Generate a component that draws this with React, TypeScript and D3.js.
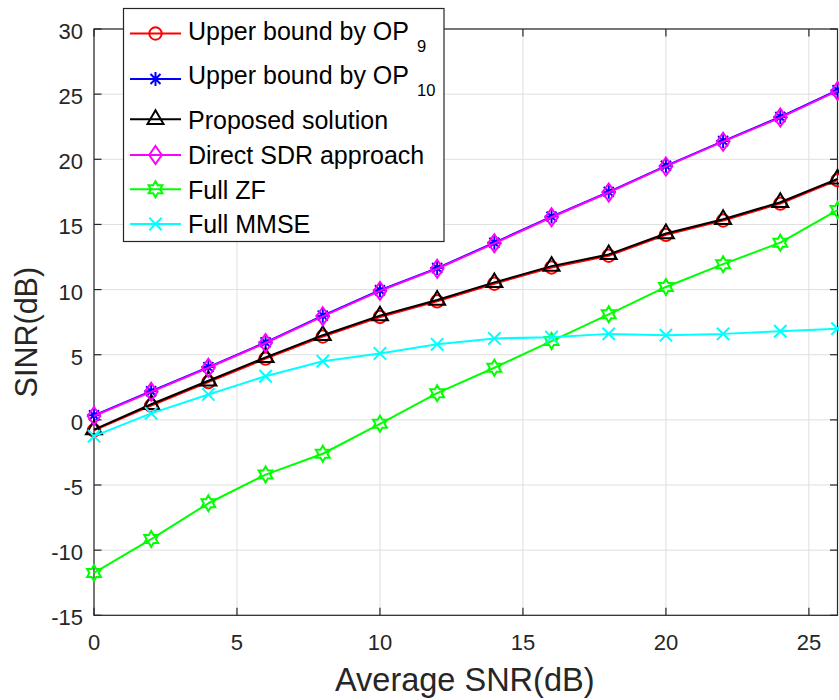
import React from 'react';
import * as d3 from 'd3';

// Average SNR (dB) sample points
const snrDb = [0, 2, 4, 6, 8, 10, 12, 14, 16, 18, 20, 22, 24, 26];

// SINR (dB) per method
const upperOp9 = [-0.8, 1.1, 2.9, 4.7, 6.4, 7.9, 9.1, 10.45, 11.7, 12.6, 14.2, 15.3, 16.6, 18.4];
const upperOp10 = [0.35, 2.2, 4.05, 5.95, 8.0, 9.95, 11.65, 13.6, 15.6, 17.5, 19.5, 21.4, 23.25, 25.3];
const proposed = [-0.75, 1.2, 3.0, 4.8, 6.5, 8.0, 9.2, 10.55, 11.8, 12.7, 14.3, 15.4, 16.7, 18.5];
const directSdr = [0.3, 2.15, 4.0, 5.9, 7.95, 9.9, 11.6, 13.55, 15.55, 17.45, 19.45, 21.35, 23.2, 25.25];
const fullZf = [-11.75, -9.15, -6.4, -4.2, -2.6, -0.3, 2.05, 4.0, 6.05, 8.1, 10.2, 11.95, 13.6, 16.1];
const fullMmse = [-1.25, 0.5, 1.95, 3.35, 4.5, 5.1, 5.8, 6.25, 6.35, 6.6, 6.5, 6.6, 6.8, 7.0];

const xTicks = [0, 5, 10, 15, 20, 25];
const yTicks = [-15, -10, -5, 0, 5, 10, 15, 20, 25, 30];

const legendNames = [
  'Upper bound by OP',
  'Upper bound by OP',
  'Proposed solution',
  'Direct SDR approach',
  'Full ZF',
  'Full MMSE',
];
const legendSubscripts = ['9', '10', '', '', '', ''];

type MarkerKind = 'circle' | 'asterisk' | 'triangle' | 'diamond' | 'hexagram' | 'cross';

const seriesList: { values: number[]; color: string; marker: MarkerKind }[] = [
  { values: upperOp9, color: '#ff0000', marker: 'circle' },
  { values: upperOp10, color: '#0000ff', marker: 'asterisk' },
  { values: proposed, color: '#000000', marker: 'triangle' },
  { values: directSdr, color: '#ff00ff', marker: 'diamond' },
  { values: fullZf, color: '#00ff00', marker: 'hexagram' },
  { values: fullMmse, color: '#00ffff', marker: 'cross' },
];

const W = 839;
const H = 700;
const left = 94;
const right = 837.5;
const top = 29;
const bottom = 615.3;
const axisColor = '#262626';
const gridColor = '#dfdfdf';
const font = '"Liberation Sans", Arial, Helvetica, sans-serif';

const x = d3.scaleLinear().domain([0, 26]).range([left, right]);
const y = d3.scaleLinear().domain([-15, 30]).range([bottom, top]);

function hexagramPath(R: number): string {
  const r = R / Math.sqrt(3);
  const pts: [number, number][] = [];
  for (let i = 0; i < 12; i++) {
    const a = -Math.PI / 2 + (i * Math.PI) / 6;
    const rad = i % 2 === 0 ? R : r;
    pts.push([rad * Math.cos(a), rad * Math.sin(a)]);
  }
  return 'M' + pts.map((p) => p.join(',')).join('L') + 'Z';
}

function Marker({ kind, cx, cy, color }: { kind: MarkerKind; cx: number; cy: number; color: string }) {
  const common = { fill: 'none', stroke: color, strokeWidth: 2 };
  const t = `translate(${cx},${cy})`;
  switch (kind) {
    case 'circle':
      return <circle cx={cx} cy={cy} r={6.2} {...common} />;
    case 'asterisk':
      return (
        <path
          transform={t}
          d="M-7,0L7,0M0,-7L0,7M-5,-5L5,5M-5,5L5,-5"
          {...common}
        />
      );
    case 'triangle':
      return <path transform={t} d="M0,-9L8,4.7L-8,4.7Z" {...common} />;
    case 'diamond':
      return <path transform={t} d="M0,-9L6.3,0L0,9L-6.3,0Z" {...common} />;
    case 'hexagram':
      return <path transform={t} d={hexagramPath(8)} {...common} />;
    case 'cross':
      return <path transform={t} d="M-6.2,-6.2L6.2,6.2M-6.2,6.2L6.2,-6.2" {...common} />;
  }
}

const lineGen = d3
  .line<number>()
  .x((_, i) => x(snrDb[i]))
  .y((d) => y(d));

// legend layout
const legBox = { x: 123.5, y: 8.5, w: 320.5, h: 233 };
const legLineX1 = 130;
const legLineX2 = 181;
const legMarkerX = 155.5;
const legTextX = 188;
const legLineY = [33.5, 79, 119.3, 155, 189.3, 224];
const legBaseY = [39.5, 83.5, 129.3, 164.3, 199, 233.3];

export default function App() {
  return (
    <svg
      width={W}
      height={H}
      style={{ position: 'absolute', left: 0, top: 0, background: '#fff' }}
      fontFamily={font}
    >
      <rect x={0} y={0} width={W} height={H} fill="#fff" />

      {/* grid */}
      <g>
        {xTicks.map((t) => (
          <line key={'gx' + t} x1={x(t)} x2={x(t)} y1={top} y2={bottom} stroke={gridColor} strokeWidth={1} />
        ))}
        {yTicks.map((t) => (
          <line key={'gy' + t} x1={left} x2={right} y1={y(t)} y2={y(t)} stroke={gridColor} strokeWidth={1} />
        ))}
      </g>

      {/* axes box and ticks */}
      <g stroke={axisColor} strokeWidth={1.2} fill="none">
        <rect x={left} y={top} width={right - left} height={bottom - top} />
        {xTicks.map((t) => (
          <g key={'tx' + t}>
            <line x1={x(t)} x2={x(t)} y1={bottom} y2={bottom - 7.5} />
            <line x1={x(t)} x2={x(t)} y1={top} y2={top + 7.5} />
          </g>
        ))}
        {yTicks.map((t) => (
          <g key={'ty' + t}>
            <line x1={left} x2={left + 7.5} y1={y(t)} y2={y(t)} />
            <line x1={right} x2={right - 7.5} y1={y(t)} y2={y(t)} />
          </g>
        ))}
      </g>

      {/* tick labels */}
      <g fill={axisColor} fontSize={22}>
        {xTicks.map((t) => (
          <text key={'lx' + t} x={x(t)} y={650} textAnchor="middle">
            {t}
          </text>
        ))}
        {yTicks.map((t) => (
          <text key={'ly' + t} x={83} y={y(t) + 10} textAnchor="end">
            {t}
          </text>
        ))}
      </g>

      {/* axis titles */}
      <text x={(left + right) / 2 - 1} y={691} textAnchor="middle" fontSize={32.5} fill={axisColor}>
        Average SNR(dB)
      </text>
      <text
        transform={`translate(37,${(top + bottom) / 2 + 10}) rotate(-90)`}
        textAnchor="middle"
        fontSize={30.5}
        fill={axisColor}
      >
        SINR(dB)
      </text>

      {/* series */}
      {seriesList.map((s, si) => (
        <g key={'s' + si}>
          <path d={lineGen(s.values) || ''} fill="none" stroke={s.color} strokeWidth={2} strokeLinejoin="round" />
          {s.values.map((v, i) => (
            <Marker key={i} kind={s.marker} cx={x(snrDb[i])} cy={y(v)} color={s.color} />
          ))}
        </g>
      ))}

      {/* legend */}
      <g>
        <rect x={legBox.x} y={legBox.y} width={legBox.w} height={legBox.h} fill="#fff" stroke={axisColor} strokeWidth={1.2} />
        {seriesList.map((s, i) => (
          <g key={'leg' + i}>
            <line x1={legLineX1} x2={legLineX2} y1={legLineY[i]} y2={legLineY[i]} stroke={s.color} strokeWidth={2} />
            <Marker kind={s.marker} cx={legMarkerX} cy={legLineY[i]} color={s.color} />
            <text x={legTextX} y={legBaseY[i]} fontSize={25} fill="#000">
              {legendNames[i]}
              {legendSubscripts[i] && (
                <tspan dx={8} dy={12} fontSize={16.5}>
                  {legendSubscripts[i]}
                </tspan>
              )}
            </text>
          </g>
        ))}
      </g>
    </svg>
  );
}
